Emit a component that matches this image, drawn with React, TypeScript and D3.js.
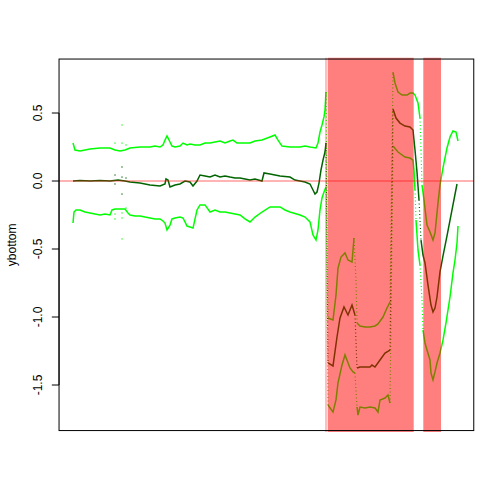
import * as d3 from "d3";
import React from "react";

// sample index along the series (x axis has no ticks in the original)
const centerT = [0,7,17,27,37,45,52,57,67,77,87,92,93,95,97,102,107,112,117,120,124,127,132,137,142,147,152,157,162,167,172,177,182,189,191,197,202,207,217,222,227,232,237,240,242,244,246,248,250,252,253,255,260,264,267,271,275,279,282,284,287,297,299,302,307,312,317,320,323,327,332,337,340,342,344,346,348,350,352,355,358,360,362,364,367,370,374,379,384];
const centerV = [0,0.004,0,0.004,0,0.007,0,-0.007,-0.015,-0.029,-0.037,-0.022,0.015,0.007,-0.044,-0.029,-0.022,0,-0.007,-0.037,0,0.044,0.037,0.029,0.044,0.029,0.037,0.029,0.022,0.022,0.015,0.007,0.015,0,0.059,0.051,0.044,0.037,0.029,0.007,0,-0.007,-0.022,-0.066,-0.096,-0.081,-0.015,0.081,0.154,0.213,0.279,-1.338,-1.36,-1.147,-1.007,-0.926,-0.985,-0.912,-0.985,-1.375,-1.368,-1.368,-1.353,-1.368,-1.316,-1.265,-1.243,0.529,0.463,0.426,0.404,0.397,0.375,0.228,0.066,-0.14,-0.434,-0.544,-0.603,-0.765,-0.912,-0.963,-0.934,-0.853,-0.669,-0.551,-0.404,-0.213,-0.022];

const upperT = [0,2,7,17,27,37,42,47,52,57,67,77,82,87,90,92,94,97,99,102,107,110,114,117,122,127,132,137,142,147,152,157,160,164,167,177,182,189,197,202,205,209,217,227,232,237,243,245,247,249,251,252,253,255,260,263,265,268,272,275,279,281,283,284,287,292,297,302,305,310,314,317,320,322,325,329,334,337,340,342,345,347,348,349,351,354,357,360,362,365,367,370,374,377,380,383,385];
const upperV = [0.279,0.228,0.221,0.235,0.243,0.243,0.228,0.221,0.228,0.243,0.25,0.25,0.257,0.25,0.265,0.301,0.331,0.287,0.257,0.25,0.257,0.279,0.265,0.272,0.265,0.265,0.279,0.279,0.287,0.294,0.279,0.294,0.301,0.279,0.279,0.279,0.294,0.301,0.324,0.338,0.301,0.257,0.25,0.25,0.257,0.25,0.243,0.279,0.36,0.412,0.471,0.522,0.654,-1.007,-1.022,-0.838,-0.64,-0.559,-0.529,-0.581,-0.596,-0.419,-0.728,-1.044,-1.066,-1.074,-1.074,-1.066,-1.051,-1,-0.934,-0.89,0.801,0.721,0.654,0.632,0.632,0.647,0.647,0.632,0.574,0.463,0.228,-0.029,-0.14,-0.324,-0.375,-0.434,-0.382,-0.162,-0.029,0.096,0.243,0.324,0.368,0.36,0.294];

const lowerT = [0,1,3,7,12,17,22,27,32,37,39,42,47,52,55,57,62,67,72,77,82,87,90,92,94,97,99,102,107,110,112,114,117,120,124,127,132,137,142,147,152,157,167,172,177,182,189,197,207,212,217,227,232,237,240,243,245,247,249,251,253,255,260,263,265,269,272,277,280,282,284,285,287,292,297,302,305,307,312,315,317,320,325,332,337,340,341,342,343,345,347,349,350,352,354,357,358,360,362,364,367,370,373,377,380,382,384,385];
const lowerV = [-0.309,-0.228,-0.213,-0.213,-0.228,-0.235,-0.243,-0.25,-0.243,-0.25,-0.213,-0.206,-0.206,-0.206,-0.235,-0.25,-0.257,-0.257,-0.265,-0.272,-0.279,-0.279,-0.294,-0.309,-0.36,-0.324,-0.279,-0.272,-0.265,-0.272,-0.301,-0.331,-0.338,-0.346,-0.213,-0.176,-0.176,-0.228,-0.213,-0.228,-0.228,-0.235,-0.25,-0.279,-0.301,-0.265,-0.228,-0.191,-0.191,-0.213,-0.228,-0.25,-0.265,-0.301,-0.397,-0.434,-0.36,-0.213,-0.125,-0.081,-0.044,-1.647,-1.699,-1.61,-1.485,-1.353,-1.279,-1.375,-1.404,-1.412,-1.662,-1.721,-1.662,-1.669,-1.662,-1.669,-1.699,-1.61,-1.596,-1.574,-1.632,0.257,0.213,0.176,0.169,0.154,0.081,-0.066,-0.287,-0.507,-0.618,-0.875,-1.096,-1.191,-1.243,-1.316,-1.412,-1.463,-1.404,-1.338,-1.265,-1.169,-1.044,-0.853,-0.676,-0.581,-0.456,-0.331];

// stray points around one sample
const strayUpperT = [42, 49, 53, 49];
const strayUpperV = [0.279, 0.279, 0.265, 0.412];
const strayCenterT = [49, 42, 49, 53, 42, 49];
const strayCenterV = [0.103, 0.044, 0.029, 0.022, -0.022, -0.096];
const strayLowerT = [42, 49, 53, 42, 49, 49];
const strayLowerV = [-0.243, -0.235, -0.199, -0.279, -0.272, -0.426];

// shaded intervals [start, end] in sample index
const bandStart = [252.5, 254.7, 350.3];
const bandEnd = [253.5, 340.7, 368];

const yTicks = [0.5, 0, -0.5, -1, -1.5];

const width = 504;
const height = 504;
const marginLeft = 59.04;
const marginRight = 30.24;
const marginTop = 59.04;
const marginBottom = 73.44;

const x = d3.scaleLinear([-13.96, 400.76], [marginLeft, width - marginRight]);
const y = d3.scaleLinear([-1.835, 0.8968], [height - marginBottom, marginTop]);

function splitRuns(ts: number[], vs: number[]) {
  const pts = ts.map((t, i) => [x(t), y(vs[i])] as [number, number]);
  const solid: [number, number][][] = [];
  const dotted: [number, number][][] = [];
  let run: [number, number][] = [pts[0]];
  for (let i = 1; i < pts.length; i++) {
    const dx = Math.abs(pts[i][0] - pts[i - 1][0]);
    const dy = Math.abs(pts[i][1] - pts[i - 1][1]);
    if (dy > 30 && dy / Math.max(dx, 0.1) > 15) {
      if (run.length > 1) solid.push(run);
      dotted.push([pts[i - 1], pts[i]]);
      run = [pts[i]];
    } else {
      run.push(pts[i]);
    }
  }
  if (run.length > 1) solid.push(run);
  return { solid, dotted };
}

const line = d3.line<[number, number]>();

function Series({ ts, vs, color }: { ts: number[]; vs: number[]; color: string }) {
  const { solid, dotted } = splitRuns(ts, vs);
  return (
    <g>
      {solid.map((r, i) => (
        <path key={"s" + i} d={line(r) ?? ""} fill="none" stroke={color} strokeWidth={1.5} />
      ))}
      {dotted.map((r, i) => (
        <path key={"d" + i} d={line(r) ?? ""} fill="none" stroke={color} strokeWidth={1.2} strokeDasharray="1 2.5" />
      ))}
    </g>
  );
}

function Stray({ ts, vs, color }: { ts: number[]; vs: number[]; color: string }) {
  return (
    <g>
      {ts.map((t, i) => (
        <rect key={i} x={x(t) - 0.6} y={y(vs[i]) - 0.6} width={1.2} height={1.2} fill={color} />
      ))}
    </g>
  );
}

export default function App() {
  const font = "'Liberation Sans', Arial, Helvetica, sans-serif";
  const x0 = marginLeft;
  const x1 = width - marginRight;
  const y0 = marginTop;
  const y1 = height - marginBottom;
  return (
    <div style={{ position: "fixed", left: 0, top: 0 }}>
      <svg width={width} height={height} style={{ display: "block", background: "#fff" }}>
        <defs>
          <clipPath id="plotclip">
            <rect x={x0} y={y0 - 1.5} width={x1 - x0} height={y1 - y0 + 3} />
          </clipPath>
        </defs>
        <g clipPath="url(#plotclip)">
          <Series ts={upperT} vs={upperV} color="#00ff00" />
          <Series ts={lowerT} vs={lowerV} color="#00ff00" />
          <Series ts={centerT} vs={centerV} color="#006400" />
          <Stray ts={strayUpperT} vs={strayUpperV} color="#00ff00" />
          <Stray ts={strayLowerT} vs={strayLowerV} color="#00ff00" />
          <Stray ts={strayCenterT} vs={strayCenterV} color="#006400" />
          {bandStart.map((s, i) => (
            <rect
              key={i}
              x={x(s)}
              y={y0 - 1.5}
              width={x(bandEnd[i]) - x(s)}
              height={y1 - y0 + 3}
              fill="rgba(255,0,0,0.5)"
            />
          ))}
          <line x1={x0} x2={x1} y1={y(0)} y2={y(0)} stroke="rgba(255,0,0,0.4)" strokeWidth={1.6} />
        </g>
        <rect x={x0} y={y0} width={x1 - x0} height={y1 - y0} fill="none" stroke="#000" strokeWidth={1} />
        <g fontFamily={font} fontSize={12} fill="#000">
          <line x1={x0} x2={x0} y1={y(yTicks[0])} y2={y(yTicks[yTicks.length - 1])} stroke="#000" />
          {yTicks.map((v) => (
            <g key={v}>
              <line x1={x0 - 7.2} x2={x0} y1={y(v)} y2={y(v)} stroke="#000" />
              <text transform={`translate(${x0 - 17.5},${y(v)}) rotate(-90)`} textAnchor="middle">
                {v.toFixed(1)}
              </text>
            </g>
          ))}
          <text transform={`translate(15.84,${(y0 + y1) / 2}) rotate(-90)`} textAnchor="middle">
            ybottom
          </text>
        </g>
      </svg>
    </div>
  );
}
